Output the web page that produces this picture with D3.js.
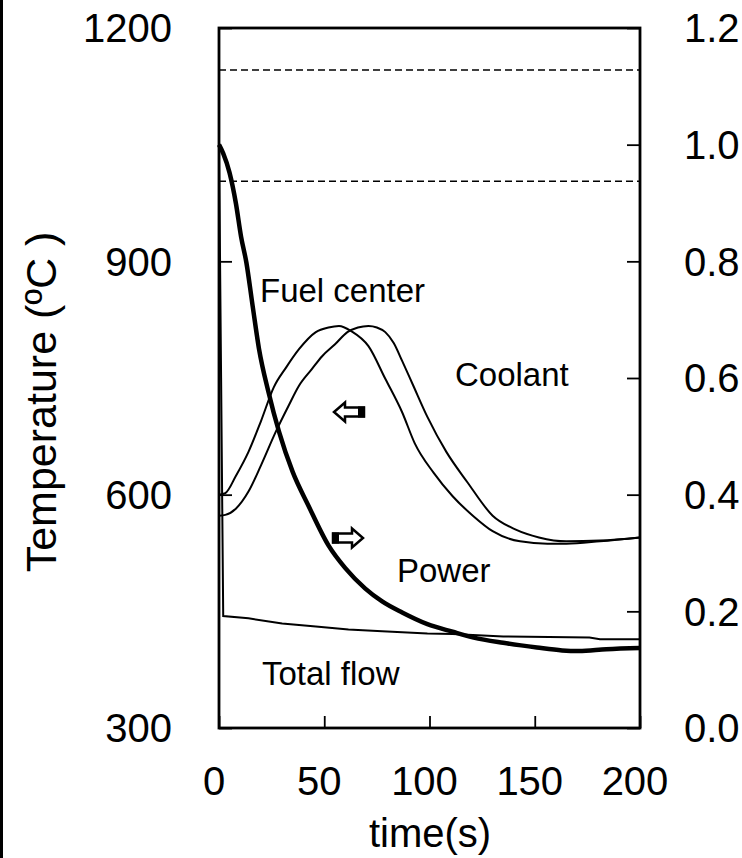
<!DOCTYPE html>
<html>
<head>
<meta charset="utf-8">
<script src="https://cdn.jsdelivr.net/npm/d3@7"></script>
<style>
  body { margin: 0; background: #fff; }
  text { font-family: "Liberation Sans", Arial, sans-serif; fill: #000; }
</style>
</head>
<body>
<div id="chart"></div>
<script>
// fuel center temperature (left axis)
const fuelT = [0, 3, 8, 14, 20, 26, 32, 38, 46, 52, 57, 63, 71, 79, 87, 93, 102, 111, 121, 130, 143, 156, 165, 181, 200];
const fuelV = [600, 602, 624, 655, 695, 738, 764, 787, 809, 815, 817, 810, 791, 749, 706, 666, 628, 598, 572, 553, 540, 537, 537, 540, 545];

// coolant temperature (left axis)
const coolT = [0, 3, 8, 14, 20, 27, 33, 38, 44, 49, 55, 61, 66, 71, 75, 79, 83, 87, 92, 99, 108, 118, 130, 141, 152, 165, 181, 200];
const coolV = [573, 574, 582, 604, 638, 681, 714, 740, 761, 778, 793, 809, 815, 817, 815, 809, 795, 772, 742, 700, 655, 616, 573, 555, 545, 540, 541, 545];

// normalized power (right axis)
const powT = [0, 2, 5, 8, 10.5, 13, 16, 19, 23.5, 28.5, 35, 42.5, 52, 60, 69.5, 77.5, 87, 99, 111, 121, 135, 151, 163, 171, 184, 200];
const powV = [1.0, 0.985, 0.952, 0.90, 0.842, 0.798, 0.723, 0.650, 0.576, 0.508, 0.439, 0.381, 0.313, 0.274, 0.239, 0.217, 0.198, 0.178, 0.165, 0.155, 0.146, 0.138, 0.133, 0.132, 0.135, 0.137];

// normalized total flow (right axis)
const flowT = [0, 1, 2, 14, 30, 46, 61.5, 77.5, 99, 111, 135, 176, 181, 200];
const flowV = [1.0, 0.6, 0.192, 0.188, 0.179, 0.174, 0.169, 0.166, 0.162, 0.161, 0.157, 0.155, 0.152, 0.152];

// dashed temperature limits
const limits = [1146, 1003];

const xTicks = [0, 50, 100, 150, 200];
const tTicks = [300, 600, 900, 1200];
const pTicks = [0, 0.2, 0.4, 0.6, 0.8, 1.0, 1.2];

const W = 742, H = 858;
const svg = d3.select("#chart").append("svg")
  .attr("width", W).attr("height", H);

const x = d3.scaleLinear().domain([0, 200]).range([219, 640]);
const yT = d3.scaleLinear().domain([300, 1200]).range([728, 28]);
const yP = d3.scaleLinear().domain([0, 1.2]).range([728, 28]);

// scan edge on the left
svg.append("line")
  .attr("x1", 1.5).attr("x2", 1.5).attr("y1", 0).attr("y2", H)
  .attr("stroke", "#000").attr("stroke-width", 3);

// dashed limit lines
svg.append("g").selectAll("line")
  .data(limits)
  .enter().append("line")
  .attr("x1", x(0)).attr("x2", x(200))
  .attr("y1", d => yT(d)).attr("y2", d => yT(d))
  .attr("stroke", "#000").attr("stroke-width", 1.6)
  .attr("stroke-dasharray", "7,4");

const zip = (a, b) => a.map((d, i) => [d, b[i]]);

const lineT = d3.line().x(d => x(d[0])).y(d => yT(d[1])).curve(d3.curveMonotoneX);
const lineP = d3.line().x(d => x(d[0])).y(d => yP(d[1])).curve(d3.curveMonotoneX);
const lineF = d3.line().x(d => x(d[0])).y(d => yP(d[1]));

svg.append("path").datum(zip(flowT, flowV))
  .attr("d", lineF).attr("fill", "none").attr("stroke", "#000").attr("stroke-width", 2);
svg.append("path").datum(zip(fuelT, fuelV))
  .attr("d", lineT).attr("fill", "none").attr("stroke", "#000").attr("stroke-width", 2);
svg.append("path").datum(zip(coolT, coolV))
  .attr("d", lineT).attr("fill", "none").attr("stroke", "#000").attr("stroke-width", 2);
svg.append("path").datum(zip(powT, powV))
  .attr("d", lineP).attr("fill", "none").attr("stroke", "#000").attr("stroke-width", 4.5)
  .attr("stroke-linejoin", "round");

// frame
svg.append("rect")
  .attr("x", x(0)).attr("y", yT(1200))
  .attr("width", x(200) - x(0)).attr("height", yT(300) - yT(1200))
  .attr("fill", "none").attr("stroke", "#000").attr("stroke-width", 2.8);

// axes with inner ticks
const axL = svg.append("g").attr("transform", `translate(${x(0)},0)`)
  .call(d3.axisRight(yT).tickValues(tTicks).tickSize(13).tickFormat(""));
const axR = svg.append("g").attr("transform", `translate(${x(200)},0)`)
  .call(d3.axisLeft(yP).tickValues(pTicks).tickSize(13).tickFormat(""));
const axB = svg.append("g").attr("transform", `translate(0,${yT(300)})`)
  .call(d3.axisTop(x).tickValues(xTicks).tickSize(12).tickFormat(""));
[axL, axR, axB].forEach(a => {
  a.select(".domain").remove();
  a.selectAll("line").attr("stroke", "#000").attr("stroke-width", 1.8);
});

// tick labels
svg.append("g").selectAll("text")
  .data(tTicks).enter().append("text")
  .attr("x", 172).attr("y", d => yT(d)).attr("dy", "0.36em")
  .attr("text-anchor", "end").style("font-size", "40px")
  .text(d => d);
svg.append("g").selectAll("text")
  .data(pTicks).enter().append("text")
  .attr("x", 684).attr("y", d => yP(d)).attr("dy", "0.36em")
  .attr("text-anchor", "start").style("font-size", "40px")
  .text(d3.format(".1f"));
svg.append("g").selectAll("text")
  .data(xTicks).enter().append("text")
  .attr("x", d => x(d) - 5).attr("y", 795)
  .attr("text-anchor", "middle").style("font-size", "40px")
  .text(d => d);

// axis titles
svg.append("text")
  .attr("x", 430).attr("y", 847)
  .attr("text-anchor", "middle").style("font-size", "40px")
  .text("time(s)");
svg.append("text")
  .attr("transform", "translate(56,402) rotate(-90)")
  .attr("text-anchor", "middle").style("font-size", "43px")
  .text("Temperature (ºC )");

// curve labels
const labels = [
  { t: "Fuel center", x: 260, y: 302 },
  { t: "Coolant", x: 455, y: 386 },
  { t: "Power", x: 397, y: 582 },
  { t: "Total flow", x: 262, y: 685 }
];
svg.append("g").selectAll("text")
  .data(labels).enter().append("text")
  .attr("x", d => d.x).attr("y", d => d.y)
  .style("font-size", "33px")
  .text(d => d.t);

// hollow arrows pointing to the axis of each group
function arrow(cx, cy, dir) {
  const g = svg.append("g").attr("transform", `translate(${cx},${cy}) scale(${dir},1)`);
  // pointing right in local coords, length 30, height 19
  g.append("path")
    .attr("d", "M-15,-4.5 L4,-4.5 L4,-9.5 L15,0 L4,9.5 L4,4.5 L-15,4.5 Z")
    .attr("fill", "#fff").attr("stroke", "#000").attr("stroke-width", 2.5)
    .attr("stroke-linejoin", "miter");
  g.append("rect")
    .attr("x", -16).attr("y", -5.5).attr("width", 7).attr("height", 11)
    .attr("fill", "#000");
}
arrow(349, 412, -1);
arrow(348, 538, 1);
</script>
</body>
</html>
